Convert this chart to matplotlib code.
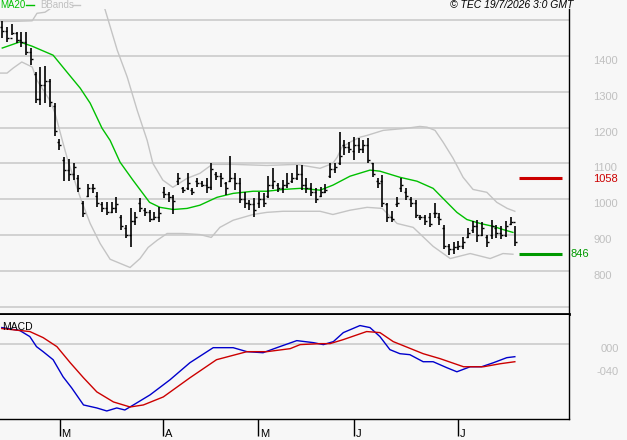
import numpy as np
import matplotlib
matplotlib.use("Agg")
import matplotlib.pyplot as plt
import matplotlib.transforms as mtransforms
from matplotlib.lines import Line2D

plt.rcParams['font.family'] = ['Liberation Sans', 'DejaVu Sans']

# daily bars (high / low / open / close)
highs = [1497, 1480, 1489, 1466, 1466, 1466, 1422, 1355, 1369, 1371,
         1335, 1268, 1167, 1117, 1111, 1100, 1066, 994, 1041, 1041,
         1019, 991, 991, 991, 1005, 955, 929, 974, 963, 1002,
         974, 969, 963, 977, 1033, 1019, 1011, 1072, 1033, 1072,
         1030, 1058, 1050, 1058, 1100, 1075, 1072, 1047, 1120, 1072,
         1058, 1019, 997, 1002, 1019, 1016, 1064, 1086, 1044, 1053,
         1072, 1072, 1094, 1094, 1058, 1044, 1030, 1033, 1041, 1100,
         1100, 1187, 1164, 1159, 1173, 1170, 1164, 1170, 1100, 1058,
         1066, 988, 966, 1005, 1058, 1030, 1005, 997, 955, 955,
         960, 988, 960, 927, 876, 879, 882, 893, 918, 938,
         941, 935, 901, 941, 927, 924, 938, 949, 924]
lows = [1450, 1438, 1458, 1436, 1425, 1402, 1374, 1268, 1262, 1268,
        1257, 1176, 1136, 1050, 1050, 1053, 1019, 949, 1005, 1016,
        977, 963, 955, 960, 960, 913, 890, 865, 927, 963,
        952, 935, 941, 935, 1002, 991, 958, 1039, 1016, 1025,
        1011, 1033, 1033, 1016, 1025, 1053, 1033, 1011, 1047, 1025,
        988, 974, 969, 949, 974, 977, 1002, 1027, 1019, 1016,
        1030, 1044, 1053, 1025, 1016, 1008, 988, 1005, 1016, 1058,
        1072, 1094, 1122, 1128, 1108, 1128, 1128, 1100, 1061, 1030,
        977, 935, 935, 977, 1019, 997, 977, 946, 941, 927,
        921, 946, 927, 862, 843, 848, 857, 862, 890, 904,
        879, 896, 865, 888, 890, 888, 893, 927, 868]
opens = [1480, 1470, 1450, 1465, 1445, 1440, 1410, 1350, 1280, 1320,
         1330, 1260, 1160, 1110, 1080, 1070, 1060, 990, 1010, 1030,
         1010, 985, 975, 965, 975, 950, 920, 900, 940, 990,
         970, 965, 945, 950, 1020, 1015, 1005, 1050, 1030, 1030,
         1025, 1050, 1045, 1040, 1035, 1070, 1065, 1045, 1050, 1060,
         1045, 1000, 990, 985, 990, 1000, 1010, 1040, 1040, 1030,
         1040, 1050, 1060, 1070, 1040, 1030, 1020, 1010, 1020, 1065,
         1085, 1100, 1150, 1145, 1135, 1150, 1140, 1150, 1100, 1050,
         1050, 985, 950, 985, 1030, 1020, 1000, 990, 950, 950,
         950, 960, 950, 920, 870, 860, 865, 870, 895, 915,
         925, 900, 895, 900, 920, 905, 900, 930, 935]
closes = [1470, 1450, 1465, 1445, 1440, 1410, 1390, 1280, 1320, 1330,
          1270, 1190, 1150, 1080, 1070, 1090, 1030, 960, 1030, 1030,
          990, 975, 965, 975, 985, 925, 900, 940, 950, 975,
          965, 945, 950, 960, 1015, 1005, 995, 1060, 1025, 1045,
          1020, 1045, 1040, 1035, 1085, 1065, 1060, 1030, 1060, 1045,
          1000, 990, 985, 970, 1000, 990, 1040, 1050, 1030, 1040,
          1045, 1060, 1070, 1040, 1030, 1020, 1000, 1020, 1025, 1085,
          1090, 1120, 1145, 1140, 1150, 1140, 1150, 1110, 1070, 1045,
          990, 950, 945, 990, 1040, 1010, 990, 955, 950, 940,
          930, 960, 945, 870, 860, 865, 870, 880, 905, 925,
          900, 920, 880, 925, 905, 900, 925, 935, 880]

# MA20 and Bollinger bands (bar position, value)
ma_x = [0, 3.7, 6.3, 10.7, 13.6, 16.4, 18.5, 21, 22.7, 24.8, 27.5, 31, 33.2, 36,
        38.9, 41.6, 45.2, 48.6, 52.8, 55.7, 59.1, 62.7, 66.9, 69.6, 73.2, 77.4,
        79.5, 83.7, 87.3, 90.7, 93.6, 95.7, 97.8, 100.6, 103.3, 105.4, 107.5]
ma_y = [1422, 1439, 1427, 1402, 1355, 1310, 1268, 1198, 1164, 1103, 1053, 991, 977, 971,
        974, 983, 1005, 1016, 1022, 1022, 1027, 1030, 1025, 1039, 1064, 1081,
        1078, 1061, 1050, 1030, 991, 963, 943, 932, 924, 915, 907]

up_x = [-0.5, 3.7, 6.3, 7.3, 9, 10, 11.1, 12, 15, 18, 20, 21.6, 24.2, 26.3, 28.4,
        30.5, 31.7, 33.8, 35.9, 38.9, 41.6, 44.2, 48.6, 55.7, 62, 66.9, 69.6, 70.5,
        71.5, 73.2, 75.3, 76.8, 80.2, 85.2, 87.9, 89.4, 91.1, 92.8, 94.9, 97, 99.1,
        102, 104.1, 106.3, 107.9]
up_y = [1496, 1497, 1498, 1519, 1522, 1531, 1556, 1575, 1595, 1600, 1575, 1531, 1416,
        1341, 1248, 1164, 1100, 1053, 1033, 1058, 1072, 1097, 1097, 1094, 1097, 1086,
        1100, 1117, 1145, 1159, 1173, 1178, 1192, 1198, 1203, 1201, 1192, 1159, 1114,
        1061, 1027, 1019, 991, 974, 966]

lo_x = [-0.5, 1, 2.3, 4.1, 6.3, 7.3, 10, 11.1, 12.8, 13.8, 16.4, 18.5, 20.6, 22.7,
        26.9, 29, 30.7, 32.6, 34.7, 38, 41.6, 44, 45.8, 48.6, 52.8, 55.7, 59.1, 66.9,
        69.6, 73.2, 76.8, 80, 83.1, 86.5, 90.7, 94.3, 98.5, 102.7, 105.4, 107.5]
lo_y = [1352, 1352, 1366, 1383, 1369, 1332, 1276, 1240, 1156, 1108, 1005, 932, 876, 832,
        809, 834, 865, 885, 904, 904, 901, 893, 921, 941, 957, 963, 966, 966,
        957, 969, 977, 974, 932, 921, 868, 834, 848, 834, 848, 846]

# MACD and signal
macd_x = [-0.1, 3.7, 5.8, 7.2, 8.6, 10.7, 12.8, 14.6, 17.1, 19.9, 22, 24.1, 25.8, 27.6,
          31.1, 35.3, 39.5, 44.4, 48.6, 51.5, 54.9, 57.8, 62, 65.5, 67.6, 69.7, 71.8,
          75.3, 77.4, 79.5, 81.6, 83.7, 85.8, 88.6, 90.7, 93.6, 95.7, 98.5, 100.9,
          103.4, 106.2, 107.9]
macd_y = [0.278, 0.226, 0.122, -0.052, -0.139, -0.278, -0.574, -0.765, -1.061, -1.113,
          -1.165, -1.113, -1.148, -1.061, -0.887, -0.626, -0.330, -0.070, -0.070, -0.139,
          -0.157, -0.070, 0.052, 0.017, -0.017, 0.035, 0.191, 0.313, 0.278, 0.122,
          -0.104, -0.174, -0.191, -0.313, -0.313, -0.417, -0.487, -0.400, -0.400,
          -0.330, -0.243, -0.226]
sig_x = [-0.1, 5.8, 8.6, 11.5, 14.3, 17.1, 19.9, 23.4, 26.9, 29.7, 33.9, 39.5, 45.1,
         51.5, 55.7, 60.6, 62.7, 66.9, 69, 71.8, 76.7, 79.5, 82.3, 88.6, 92.2, 97.1,
         101.3, 104.8, 107.9]
sig_y = [0.261, 0.209, 0.104, -0.052, -0.330, -0.591, -0.835, -1.009, -1.096, -1.061,
         -0.922, -0.591, -0.278, -0.139, -0.139, -0.087, -0.017, 0.0, 0.0, 0.070,
         0.209, 0.191, 0.035, -0.174, -0.261, -0.400, -0.400, -0.348, -0.313]

resistance = 1058
support = 846
price_ticks = [1400, 1300, 1200, 1100, 1000, 900, 800]
grid_levels = [1500, 1400, 1300, 1200, 1100, 1000, 900, 800, 700]
month_pos = [12.1, 33.8, 53.9, 74.0, 95.9]
month_lbl = ['M', 'A', 'M', 'J', 'J']

bg = '#F7F7F7'
W, H = 627, 440
fig = plt.figure(figsize=(W / 100, H / 100), dpi=100, facecolor=bg)


def px_axes(left, top, right, bottom):
    return fig.add_axes([left / W, 1 - bottom / H, (right - left) / W, (bottom - top) / H])


ax = px_axes(0, 9, 569, 314.5)
ax2 = px_axes(0, 314.5, 569, 419)
xlim = (-0.48, 119.3)

for a in (ax, ax2):
    a.set_facecolor(bg)
    a.set_xlim(*xlim)
    for s in ('top', 'left'):
        a.spines[s].set_visible(False)
    a.spines['right'].set_linewidth(1.0)
    a.tick_params(left=False, right=False, labelleft=False, labelright=False)

# --- price panel ---
ax.set_ylim(677.7, 1531)
ax.set_yticks(grid_levels)
ax.grid(axis='y', color='#C8C8C8', lw=1.1)
ax.set_axisbelow(True)
ax.tick_params(bottom=False, labelbottom=False)
ax.spines['bottom'].set_linewidth(2.0)

idx = np.arange(len(highs))
ax.plot(up_x, up_y, color='#C4C4C4', lw=1.0, zorder=2)
ax.plot(lo_x, lo_y, color='#C4C4C4', lw=1.0, zorder=2)
ax.plot(ma_x, ma_y, color='#00C000', lw=1.0, zorder=3)
ax.vlines(idx, lows, highs, color='black', lw=1.2, zorder=4)
ax.hlines(opens, idx - 0.42, idx, color='black', lw=1.0, zorder=4)
ax.hlines(closes, idx, idx + 0.42, color='black', lw=1.0, zorder=4)

ax.hlines(resistance, 108.8, 117.8, color='#CC0000', lw=2.2, zorder=4)
ax.hlines(support, 108.8, 117.8, color='#009900', lw=2.2, zorder=4)

tr = mtransforms.blended_transform_factory(ax.transAxes, ax.transData)
for v in price_ticks:
    ax.annotate(str(v), xy=(1, v), xycoords=tr, xytext=(17.5, -3.6), textcoords='offset points',
                ha='left', va='center', fontsize=8, color='#C0C0C0', annotation_clip=False)
ax.annotate(str(resistance), xy=(1, resistance), xycoords=tr, xytext=(17.5, -0.5),
            textcoords='offset points', ha='left', va='center', fontsize=8,
            color='#CC0000', annotation_clip=False)
ax.annotate(str(support), xy=(1, support), xycoords=tr, xytext=(0.8, 0),
            textcoords='offset points', ha='left', va='center', fontsize=8,
            color='#009900', annotation_clip=False)

# --- MACD panel ---
ax2.set_ylim(-1.304, 0.504)
ax2.axhline(0, color='#C8C8C8', lw=1.1, zorder=1)
ax2.plot(sig_x, sig_y, color='#CC0000', lw=1.0, zorder=3)
ax2.plot(macd_x, macd_y, color='#0000CC', lw=1.0, zorder=2)
ax2.spines['bottom'].set_linewidth(1.0)
ax2.set_xticks(month_pos)
ax2.set_xticklabels([''] * len(month_pos))
ax2.tick_params(axis='x', direction='out', length=12.5, width=1.0, color='black')
trx = mtransforms.blended_transform_factory(ax2.transData, ax2.transAxes)
for p, l in zip(month_pos, month_lbl):
    ax2.annotate(l, xy=(p, 0), xycoords=trx, xytext=(1.2, -11), textcoords='offset points',
                 ha='left', va='center', fontsize=8, color='black', annotation_clip=False)
tr2 = mtransforms.blended_transform_factory(ax2.transAxes, ax2.transData)
for v, l in [(0.0, '000'), (-0.40, '-040')]:
    ax2.annotate(l, xy=(1, v), xycoords=tr2, xytext=(36, -3.6), textcoords='offset points',
                 ha='right', va='center', fontsize=8, color='#C0C0C0', annotation_clip=False)
fig.text(2 / W, 1 - 327 / H, 'MACD', fontsize=7.5, color='black', ha='left', va='center')

# header texts with short legend dashes
fig.text(0.5 / W, 1 - 5 / H, 'MA20', color='#00C000', fontsize=7, ha='left', va='center')
fig.text(40 / W, 1 - 5 / H, 'BBands', color='#C0C0C0', fontsize=7, ha='left', va='center')
fig.add_artist(Line2D([26 / W, 34 / W], [1 - 5 / H, 1 - 5 / H], color='#00C000', lw=1.0))
fig.add_artist(Line2D([72 / W, 80 / W], [1 - 5 / H, 1 - 5 / H], color='#C4C4C4', lw=1.0))
fig.text(573 / W, 1 - 5 / H, '\u00a9 TEC 19/7/2026 3:0 GMT', color='black', fontsize=7.5,
         style='italic', ha='right', va='center')

fig.savefig('out.png', dpi=100, facecolor=bg)
